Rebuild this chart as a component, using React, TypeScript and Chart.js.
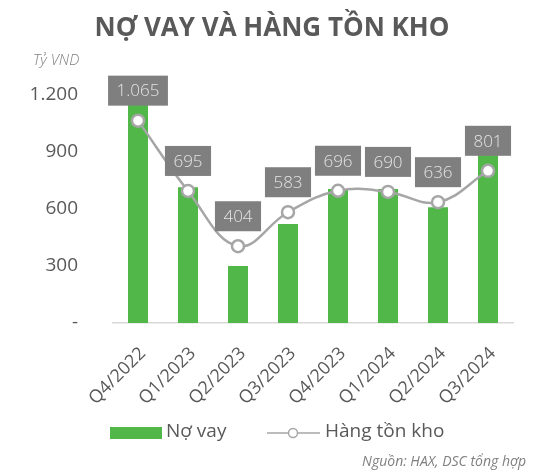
import React, { useEffect, useRef } from "react";
import { Chart, registerables } from "chart.js";

Chart.register(...registerables);

const categories = ["Q4/2022", "Q1/2023", "Q2/2023", "Q3/2023", "Q4/2023", "Q1/2024", "Q2/2024", "Q3/2024"];
const debtValues = [1170, 715, 300, 521, 705, 705, 609, 895];
const inventoryValues = [1065, 695, 404, 583, 696, 690, 636, 801];
const inventoryLabels = ["1.065", "695", "404", "583", "696", "690", "636", "801"];
const yTickValues = [0, 300, 600, 900, 1200];

const TITLE = "NỢ VAY VÀ HÀNG TỒN KHO";
const UNIT = "Tỷ VND";
const SOURCE = "Nguồn: HAX, DSC tổng hợp";
const DEBT_NAME = "Nợ vay";
const INV_NAME = "Hàng tồn kho";

const FONT = "'Open Sans', 'Noto Sans', sans-serif";
const GREEN = "#50b748";
const GRAY_LINE = "#a6a6a6";
const TEXT = "#595959";

function fmt(v: number): string {
  if (v === 0) return "-";
  return v.toLocaleString("en-US").replace(/,/g, ".");
}

const decorPlugin = {
  id: "decor",
  afterDatasetsDraw(chart: any) {
    const ctx = chart.ctx as CanvasRenderingContext2D;
    const meta = chart.getDatasetMeta(1);
    ctx.save();
    ctx.font = `300 17px ${FONT}`;
    ctx.textAlign = "center";
    ctx.textBaseline = "middle";
    meta.data.forEach((pt: any, i: number) => {
      const label = inventoryLabels[i];
      const w = ctx.measureText(label).width + 17;
      const h = 30;
      const cx = pt.x;
      const cy = pt.y - 30;
      ctx.fillStyle = "#7f7f7f";
      ctx.fillRect(cx - w / 2, cy - h / 2, w, h);
      ctx.fillStyle = "#e4e4e4";
      ctx.fillText(label, cx, cy + 1);
    });
    ctx.restore();
  },
  afterDraw(chart: any) {
    const ctx = chart.ctx as CanvasRenderingContext2D;
    ctx.save();
    // title
    ctx.fillStyle = TEXT;
    ctx.font = `bold 26px ${FONT}`;
    ctx.textAlign = "center";
    ctx.textBaseline = "alphabetic";
    ctx.fillText(TITLE, 272, 36);
    // unit
    ctx.font = `italic 300 15px ${FONT}`;
    ctx.fillStyle = "#7f7f7f";
    ctx.textAlign = "left";
    ctx.fillText(UNIT, 33, 65);
    // legend
    ctx.fillStyle = GREEN;
    ctx.fillRect(110, 427, 52, 12);
    ctx.fillStyle = TEXT;
    ctx.font = `19px ${FONT}`;
    ctx.textBaseline = "middle";
    ctx.fillText(DEBT_NAME, 166, 432);
    ctx.strokeStyle = GRAY_LINE;
    ctx.lineWidth = 1.5;
    ctx.beginPath();
    ctx.moveTo(267, 433);
    ctx.lineTo(320, 433);
    ctx.stroke();
    ctx.beginPath();
    ctx.arc(293, 433, 4.5, 0, Math.PI * 2);
    ctx.fillStyle = "#ffffff";
    ctx.fill();
    ctx.stroke();
    ctx.fillStyle = TEXT;
    ctx.fillText(INV_NAME, 325, 432);
    // source
    ctx.font = `italic 14px ${FONT}`;
    ctx.fillStyle = "#7f7f7f";
    ctx.textAlign = "right";
    ctx.textBaseline = "alphabetic";
    ctx.fillText(SOURCE, 526, 466);
    ctx.restore();
  },
};

export default function App() {
  const ref = useRef<HTMLCanvasElement | null>(null);
  useEffect(() => {
    document.body.style.margin = "0";
    const canvas = ref.current;
    if (!canvas) return;
    const chart = new Chart(canvas, {
      type: "bar",
      data: {
        labels: categories,
        datasets: [
          {
            type: "bar",
            label: DEBT_NAME,
            data: debtValues,
            backgroundColor: GREEN,
            barPercentage: 0.4,
            categoryPercentage: 1,
            order: 2,
          } as any,
          {
            type: "line",
            label: INV_NAME,
            data: inventoryValues,
            borderColor: GRAY_LINE,
            borderWidth: 2.5,
            tension: 0.4,
            pointRadius: 6,
            pointBackgroundColor: "#ffffff",
            pointBorderColor: GRAY_LINE,
            pointBorderWidth: 2.5,
            order: 1,
          } as any,
        ],
      },
      options: {
        responsive: false,
        animation: false,
        devicePixelRatio: 1,
        layout: { padding: { top: 95, right: 20, left: 0, bottom: 0 } },
        plugins: {
          legend: { display: false },
          title: { display: false },
          tooltip: { enabled: false },
        },
        scales: {
          x: {
            grid: { display: false },
            border: { color: "#d9d9d9", width: 1.5 },
            ticks: {
              color: TEXT,
              font: { family: FONT, size: 18 },
              minRotation: 45,
              maxRotation: 45,
              padding: 12,
              labelOffset: 5,
            },
            afterFit: (s: any) => {
              s.height = 149;
            },
          },
          y: {
            min: 0,
            max: 1200,
            grid: { display: false },
            border: { display: false },
            afterBuildTicks: (s: any) => {
              s.ticks = yTickValues.map((v) => ({ value: v }));
            },
            ticks: {
              color: TEXT,
              font: { family: FONT, size: 19 },
              padding: 27,
              callback: (v: any) => fmt(Number(v)),
            },
            afterFit: (s: any) => {
              s.width = 113;
            },
          },
        },
      },
      plugins: [decorPlugin],
    } as any);
    return () => chart.destroy();
  }, []);
  return <canvas ref={ref} width={533} height={472} style={{ display: "block" }} />;
}
